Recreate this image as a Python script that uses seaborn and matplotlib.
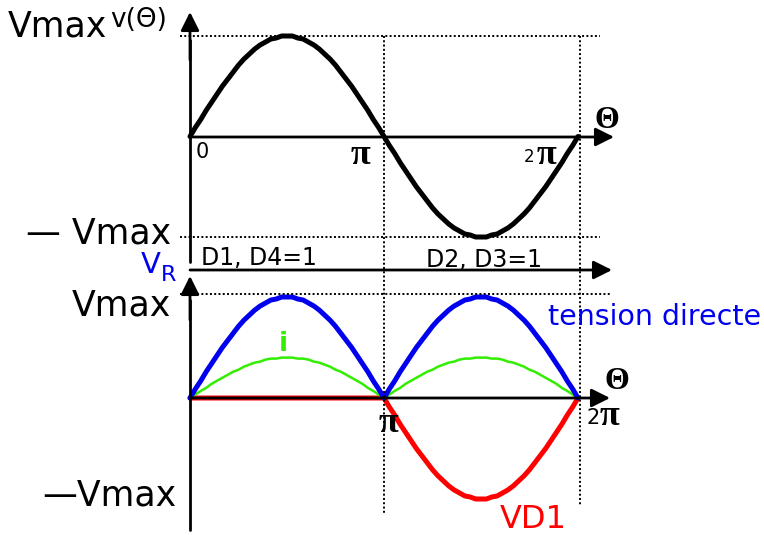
import numpy as np
import pandas as pd
import matplotlib
matplotlib.use("Agg")
import matplotlib.pyplot as plt
import seaborn as sns

# ---------------------------------
# Data (every 5 degrees over half a period)
# ---------------------------------

half_deg = list(range(0, 181, 5))
v_half = [0, 0.09, 0.17, 0.26, 0.34, 0.42, 0.5, 0.57, 0.64, 0.71,
          0.77, 0.82, 0.87, 0.91, 0.94, 0.97, 0.98, 1.0, 1.0,
          1.0, 0.98, 0.97, 0.94, 0.91, 0.87, 0.82, 0.77, 0.71, 0.64,
          0.57, 0.5, 0.42, 0.34, 0.26, 0.17, 0.09, 0]
i_half = [0, 0.035, 0.07, 0.1, 0.14, 0.17, 0.2, 0.23, 0.26, 0.28,
          0.31, 0.33, 0.35, 0.36, 0.38, 0.39, 0.39, 0.4, 0.4,
          0.4, 0.39, 0.39, 0.38, 0.36, 0.35, 0.33, 0.31, 0.28, 0.26,
          0.23, 0.2, 0.17, 0.14, 0.1, 0.07, 0.035, 0]

theta_deg = half_deg + [180 + d for d in half_deg[1:]]
v_source = v_half + [-v for v in v_half[1:]]
v_load = v_half + v_half[1:]
i_load = i_half + i_half[1:]
v_d1 = [0] * len(half_deg) + [-v for v in v_half[1:]]

theta = np.radians(theta_deg)
df = pd.DataFrame({"theta": theta, "v": v_source, "vr": v_load,
                   "i": i_load, "vd1": v_d1})

# ---------------------------------
# Figure and two panels
# ---------------------------------

W, H = 764, 535
sns.set_theme(style="white")
plt.rcParams["font.family"] = ["DejaVu Sans"]
plt.rcParams["text.color"] = "black"
fig = plt.figure(figsize=(W / 100, H / 100), dpi=100)


def box(x0, y_top, x1, y_bot):
    return [x0 / W, 1 - y_bot / H, (x1 - x0) / W, (y_bot - y_top) / H]


ax_top = fig.add_axes(box(190, 36, 578, 237))
ax_bot = fig.add_axes(box(190, 297, 578, 499))
for ax in (ax_top, ax_bot):
    ax.set_xlim(0, 2 * np.pi)
    ax.set_ylim(-1, 1)
    ax.axis("off")


def P(x, y):
    return (x / W, 1 - y / H)


def arrow(x0, y0, x1, y1):
    fig.add_artist(matplotlib.patches.FancyArrowPatch(
        P(x0, y0), P(x1, y1), transform=fig.transFigure,
        arrowstyle="-|>", mutation_scale=28, lw=2, color="black",
        shrinkA=0, shrinkB=0))


def line(xs, ys, **kw):
    fig.add_artist(matplotlib.lines.Line2D(
        [x / W for x in xs], [1 - y / H for y in ys],
        transform=fig.transFigure, **kw))


def label(x, y, s, **kw):
    fig.text(x / W, 1 - y / H, s, **kw)


dots = dict(color="black", lw=1.4, linestyle=(0, (1, 1.2)))

# guide lines
line([180, 600], [36, 36], **dots)
line([180, 600], [237, 237], **dots)
line([180, 612], [294, 294], **dots)
line([384, 384], [36, 515], **dots)
line([580, 580], [36, 505], **dots)

# axes with arrows
line([190, 190], [262, 40], color="black", lw=2)
arrow(190, 60, 190, 12)
arrow(190, 137, 614, 137)
arrow(190, 270, 612, 270)
line([190, 190], [530, 300], color="black", lw=2)
arrow(190, 320, 190, 276)
arrow(190, 398, 610, 398)

# ---------------------------------
# Curves
# ---------------------------------

sns.lineplot(data=df, x="theta", y="v", ax=ax_top, color="black",
             lw=3.6, sort=False, estimator=None, clip_on=False)
sns.lineplot(data=df, x="theta", y="vd1", ax=ax_bot, color="#ff0000",
             lw=3.6, sort=False, estimator=None, clip_on=False)
sns.lineplot(data=df, x="theta", y="i", ax=ax_bot, color="#33ee00",
             lw=1.8, sort=False, estimator=None, clip_on=False)
sns.lineplot(data=df, x="theta", y="vr", ax=ax_bot, color="#0000ee",
             lw=3.6, sort=False, estimator=None, clip_on=False)
for ax in (ax_top, ax_bot):
    if ax.get_legend():
        ax.get_legend().remove()

# ---------------------------------
# Texts
# ---------------------------------

serif = dict(family="Liberation Serif", fontweight="bold")

label(8, 37, "Vmax", fontsize=25)
label(110, 27, "v(Θ)", fontsize=19)
label(196, 158, "0", fontsize=15)
label(351, 164, "π", fontsize=26, **serif)
label(524, 162, "2", fontsize=12)
label(537, 164, "π", fontsize=26, **serif)
label(594, 128, "Θ", fontsize=23, **serif)

label(26, 244, "— Vmax", fontsize=25)
label(201, 265, "D1, D4=1", fontsize=17)
label(426, 267, "D2, D3=1", fontsize=17)
label(141, 273, "V", fontsize=21, color="#0000ee")
label(161, 281, "R", fontsize=16, color="#0000ee")
label(72, 315, "Vmax", fontsize=25)
label(548, 325, "tension directe", fontsize=20.5, color="#0000ee")
label(279, 351, "i", fontsize=19, color="#33ee00", fontweight="bold")
label(604, 389, "Θ", fontsize=23, **serif)
label(379, 432, "π", fontsize=26, **serif)
label(586, 424, "2", fontsize=15)
label(600, 425, "π", fontsize=26, **serif)
label(42, 505, "—Vmax", fontsize=25)
label(500, 528, "VD1", fontsize=23, color="#ff0000")

fig.savefig("out.png", dpi=100)
